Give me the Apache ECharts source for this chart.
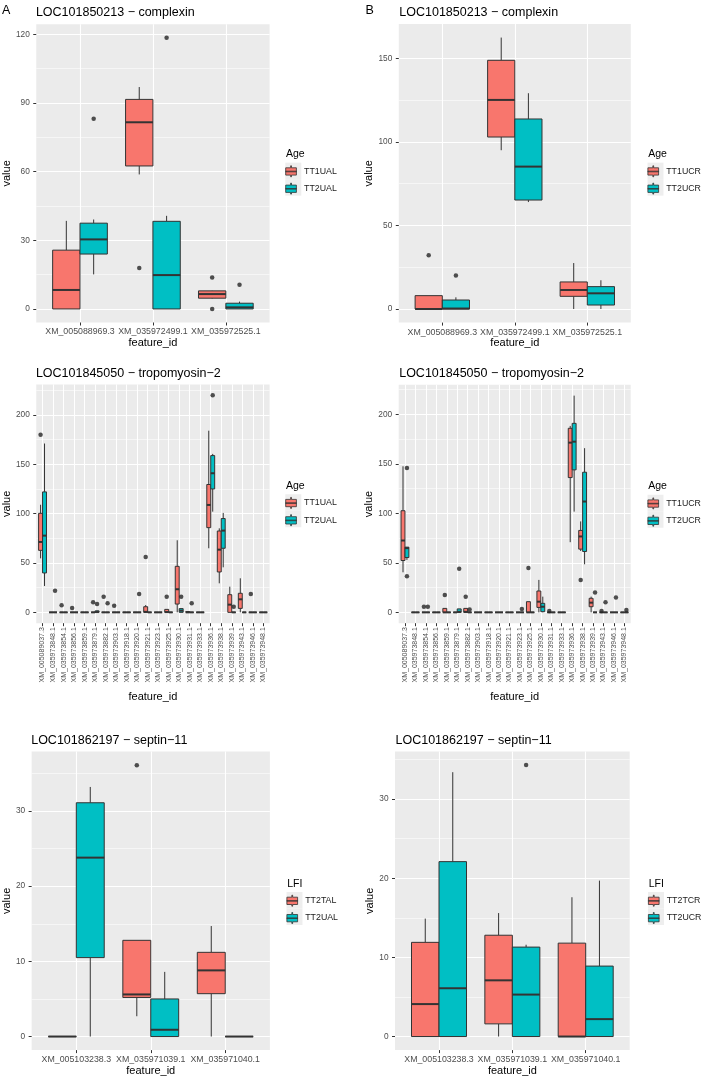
<!DOCTYPE html>
<html>
<head>
<meta charset="utf-8">
<script src="https://cdn.jsdelivr.net/npm/echarts@6/dist/echarts.min.js"></script>
<style>
  html, body { margin: 0; padding: 0; background: #fff; }
  #main { width: 709px; height: 1077px; }
</style>
</head>
<body>
<div id="main"></div>
<script>
// feature ids on the x axes
const complexinIds = ['XM_005088969.3', 'XM_035972499.1', 'XM_035972525.1'];
const tropomyosinIds = ['XM_005089037.3', 'XM_035973848.1', 'XM_035973854.1', 'XM_035973856.1',
  'XM_035973859.1', 'XM_035973879.1', 'XM_035973882.1', 'XM_035973903.1', 'XM_035973918.1',
  'XM_035973920.1', 'XM_035973921.1', 'XM_035973923.1', 'XM_035973925.1', 'XM_035973930.1',
  'XM_035973931.1', 'XM_035973933.1', 'XM_035973936.1', 'XM_035973938.1', 'XM_035973939.1',
  'XM_035973943.1', 'XM_035973946.1', 'XM_035973948.1'];
const septinIds = ['XM_005103238.3', 'XM_035971039.1', 'XM_035971040.1'];

// box stats per feature: [min, q1, median, q3, max]
// outliers: [feature index, value]
const complexinTT1UAL = [[0, 0, 8.3, 25.7, 38.5], [58.8, 62.5, 81.6, 91.6, 97.0], [4.5, 4.7, 6.5, 7.9, 8.0]];
const complexinTT1UALOut = [[1, 17.9], [2, 13.8], [2, 0]];
const complexinTT2UAL = [[15.1, 24.0, 30.4, 37.5, 39.1], [0, 0, 14.8, 38.3, 40.7], [0, 0, 0.7, 2.5, 3.2]];
const complexinTT2UALOut = [[0, 83.1], [1, 118.5], [2, 10.6]];

const complexinTT1UCR = [[0, 0, 0, 8.0, 8.0], [95.0, 102.9, 125.1, 148.8, 162.4], [0, 7.6, 11.4, 16.2, 27.5]];
const complexinTT1UCROut = [[0, 32.1]];
const complexinTT2UCR = [[0, 0, 0.3, 5.4, 7.0], [64.0, 65.2, 85.2, 113.7, 129.1], [0, 2.4, 9.4, 13.4, 17.2]];
const complexinTT2UCROut = [[0, 20.1]];

const tropomyosinTT1UAL = [
  [54.7, 62.8, 71.3, 100.3, 109], [0, 0, 0, 0, 0], [0, 0, 0, 0, 0], [0, 0, 0, 0, 0],
  [0, 0, 0, 0, 0], [0, 0, 0, 0, 0], [0, 0, 0, 0, 0], [0, 0, 0, 0, 0],
  [0, 0, 0, 0, 0], [0, 0, 0, 0, 0], [0, 0, 0.5, 5.7, 7.4], [0, 0, 0, 0, 0],
  [0, 0, 0.3, 3.0, 3.0], [0, 8.4, 23.4, 46.6, 73], [0, 0, 0, 0.8, 1.2], [0, 0, 0, 0, 0],
  [64.9, 85.8, 108.8, 129.5, 184], [29.4, 40.9, 63.5, 82.4, 85.1], [0, 0, 7.8, 17.9, 26],
  [0, 4, 13.2, 19.3, 34.5], [0, 0, 0, 0, 0], [0, 0, 0, 0, 0]];
const tropomyosinTT1UALOut = [[0, 180], [2, 7.1], [3, 4.4], [5, 10.1], [6, 15.9], [7, 6.8],
  [10, 56], [12, 15.9], [20, 18.6]];
const tropomyosinTT2UAL = [
  [26.7, 39.9, 77.7, 122, 171], [0, 0, 0, 0, 0], [0, 0, 0, 0, 0], [0, 0, 0, 0, 0],
  [0, 0, 0, 0, 0], [0, 0, 0.3, 1.5, 2], [0, 0, 0, 0, 0], [0, 0, 0, 0, 0],
  [0, 0, 0, 0, 0], [0, 0, 0, 0, 0], [0, 0, 0, 0, 0], [0, 0, 0, 0, 0],
  [0, 0, 0, 0, 0], [0, 0, 1.7, 3.8, 4], [0, 0, 0, 0, 0], [0, 0, 0, 0, 0],
  [102, 125, 140.9, 158.8, 160.5], [45.6, 64.9, 82.8, 95, 100.7], [0, 0, 0, 0, 0],
  [0, 0, 0, 0, 0], [0, 0, 0, 0, 0], [0, 0, 0, 0, 0]];
const tropomyosinTT2UALOut = [[1, 22], [5, 8.4], [6, 9.1], [9, 18.6], [13, 15.9], [14, 9.1],
  [16, 219.9], [18, 5.7]];

const tropomyosinTT1UCR = [
  [40.5, 52.4, 72.6, 102.7, 147.6], [0, 0, 0, 0, 0], [0, 0, 0, 0, 0], [0, 0, 0, 0, 0],
  [0, 0, 0, 4, 4], [0, 0, 0, 0, 0], [0, 0, 0.5, 4, 4], [0, 0, 0, 0, 0],
  [0, 0, 0, 0, 0], [0, 0, 0, 0, 0], [0, 0, 0, 0, 0], [0, 0, 0, 0, 0],
  [0, 0, 0, 10.8, 10.8], [0, 5, 10.8, 21.6, 32.8], [0, 0, 0, 0, 0], [0, 0, 0, 0, 0],
  [70.9, 136.2, 171.5, 186, 188.4], [62, 63.9, 76.7, 82.8, 91.9], [0, 5.7, 9.8, 14.2, 15.9],
  [0, 0, 0, 0, 0], [0, 0, 0, 0, 0], [0, 0, 0, 0, 0]];
const tropomyosinTT1UCROut = [[2, 5.7], [4, 17.5], [6, 15.8], [12, 44.9], [14, 1.5], [17, 32.8], [19, 1.5]];
const tropomyosinTT2UCR = [
  [53, 55.4, 64.9, 65.9, 65.9], [0, 0, 0, 0, 0], [0, 0, 0, 0, 0], [0, 0, 0, 0, 0],
  [0, 0, 0, 0, 0], [0, 0, 0.5, 3.5, 3.5], [0, 0, 0, 0, 0], [0, 0, 0, 0, 0],
  [0, 0, 0, 0, 0], [0, 0, 0, 0, 0], [0, 0, 0, 0, 0], [0, 0, 0, 0, 0],
  [0, 0, 0, 0, 0], [0, 0.7, 5.7, 9.1, 15.9], [0, 0, 0, 0, 0], [0, 0, 0, 0, 0],
  [101.8, 144, 172.5, 191, 219], [48.6, 61.5, 112, 141.6, 165.9], [0, 0, 0, 0, 0],
  [0, 0, 0, 0, 0], [0, 0, 0, 0, 0], [0, 0, 0, 0, 0]];
const tropomyosinTT2UCROut = [[0, 146], [0, 36.5], [2, 5.7], [5, 44], [6, 3], [11, 3.5],
  [18, 20], [19, 10.3], [20, 15], [21, 2.3]];

const septinTT2TAL = [[0, 0, 0, 0, 0], [2.7, 5.2, 5.6, 12.8, 12.8], [0, 5.7, 8.8, 11.2, 14.7]];
const septinTT2TALOut = [[1, 36.1]];
const septinTT2UAL = [[0, 10.5, 23.8, 31.1, 33.2], [0, 0, 0.9, 5.0, 8.6], [0, 0, 0, 0, 0]];
const septinTT2UALOut = [];

const septinTT2TCR = [[0, 0, 4.1, 11.9, 14.9], [0, 1.6, 7.1, 12.8, 15.6], [0, 0, 0, 11.8, 17.6]];
const septinTT2TCROut = [];
const septinTT2UCR = [[0, 0, 6.1, 22.1, 33.4], [0, 0, 5.3, 11.3, 11.6], [0, 0, 2.2, 8.9, 19.7]];
const septinTT2UCROut = [[1, 34.3]];

// y tick labels
const complexinTicksUAL = [0, 30, 60, 90, 120];
const complexinTicksUCR = [0, 50, 100, 150];
const tropomyosinTicks = [0, 50, 100, 150, 200];
const septinTicks = [0, 10, 20, 30];

const FILLS = ['#F8766D', '#00BFC4'];
const EDGE = '#333333';
const PANEL = '#EBEBEB';
const HALF = 0.1875;   // half of a dodged box, in feature units
const KEY_ICON = 'path://M4.95,0H5.75V2H10.7V9.3H5.75V11H4.95V9.3H0V2H4.95Z M0,5.4H10.7V6H0Z';

const panels = [
  { title: 'LOC101850213 − complexin', ids: complexinIds, ticks: complexinTicksUAL, key: 'Age',
    groups: [['TT1UAL', complexinTT1UAL, complexinTT1UALOut], ['TT2UAL', complexinTT2UAL, complexinTT2UALOut]],
    box: [35.4, 24.3, 234.2, 298.2], yGap: 20, xGap: 13, legend: [285.3, 165.4] },
  { title: 'LOC101850213 − complexin', ids: complexinIds, ticks: complexinTicksUCR, key: 'Age',
    groups: [['TT1UCR', complexinTT1UCR, complexinTT1UCROut], ['TT2UCR', complexinTT2UCR, complexinTT2UCROut]],
    box: [398.8, 24, 232, 298.6], yGap: 21, xGap: 13, legend: [647.5, 165.4] },
  { title: 'LOC101845050 − tropomyosin−2', ids: tropomyosinIds, ticks: tropomyosinTicks, key: 'Age',
    groups: [['TT1UAL', tropomyosinTT1UAL, tropomyosinTT1UALOut], ['TT2UAL', tropomyosinTT2UAL, tropomyosinTT2UALOut]],
    box: [35.4, 384.4, 234.2, 238.8], yGap: 20, xGap: 68, legend: [285.3, 497], rotate: true },
  { title: 'LOC101845050 − tropomyosin−2', ids: tropomyosinIds, ticks: tropomyosinTicks, key: 'Age',
    groups: [['TT1UCR', tropomyosinTT1UCR, tropomyosinTT1UCROut], ['TT2UCR', tropomyosinTT2UCR, tropomyosinTT2UCROut]],
    box: [398.7, 384.8, 232, 238.4], yGap: 20.5, xGap: 68, legend: [647.5, 497.5], rotate: true },
  { title: 'LOC101862197 − septin−11', ids: septinIds, ticks: septinTicks, key: 'LFI',
    groups: [['TT2TAL', septinTT2TAL, septinTT2TALOut], ['TT2UAL', septinTT2UAL, septinTT2UALOut]],
    box: [30.7, 751.6, 239.2, 298.6], yGap: 15.5, xGap: 14.5, legend: [286.5, 894.8] },
  { title: 'LOC101862197 − septin−11', ids: septinIds, ticks: septinTicks, key: 'LFI',
    groups: [['TT2TCR', septinTT2TCR, septinTT2TCROut], ['TT2UCR', septinTT2UCR, septinTT2UCROut]],
    box: [395, 751.5, 234.7, 298.7], yGap: 17, xGap: 14.5, legend: [648, 894.8] }
];

// ggplot style: data range padded by 5% on each side
function paddedRange(groups) {
  let lo = Infinity, hi = -Infinity;
  groups.forEach(([, boxes, outs]) => {
    boxes.forEach(b => { lo = Math.min(lo, b[0]); hi = Math.max(hi, b[4]); });
    outs.forEach(o => { lo = Math.min(lo, o[1]); hi = Math.max(hi, o[1]); });
  });
  const pad = (hi - lo) * 0.05;
  return [lo - pad, hi + pad];
}

function boxItem(offset) {
  return function (params, api) {
    const x = api.value(0) + offset;
    const a = api.coord([x - HALF, api.value(4)]);
    const b = api.coord([x + HALF, api.value(2)]);
    const top = api.coord([x, api.value(5)]);
    const bottom = api.coord([x, api.value(1)]);
    const med = api.coord([x, api.value(3)]);
    const thin = { stroke: EDGE, lineWidth: 1 };
    return {
      type: 'group',
      children: [
        { type: 'line', shape: { x1: top[0], y1: top[1], x2: top[0], y2: a[1] }, style: thin },
        { type: 'line', shape: { x1: bottom[0], y1: b[1], x2: bottom[0], y2: bottom[1] }, style: thin },
        { type: 'rect', shape: { x: a[0], y: a[1], width: b[0] - a[0], height: b[1] - a[1] },
          style: { fill: api.visual('color'), stroke: EDGE, lineWidth: 1 } },
        { type: 'line', shape: { x1: a[0], y1: med[1], x2: b[0], y2: med[1] },
          style: { stroke: EDGE, lineWidth: 2 } }
      ]
    };
  };
}

const chart = echarts.init(document.getElementById('main'), null, { renderer: 'canvas' });
const axisName = { fontSize: 11, color: '#000' };
const option = {
  animation: false,
  textStyle: { fontFamily: 'Liberation Sans, Arial, sans-serif' },
  title: [
    { text: 'A', left: 2, top: 4.5, padding: 0, textStyle: { fontSize: 12.5, fontWeight: 'normal', color: '#000' } },
    { text: 'B', left: 365.5, top: 4.5, padding: 0, textStyle: { fontSize: 12.5, fontWeight: 'normal', color: '#000' } }
  ],
  grid: [], xAxis: [], yAxis: [], legend: [], series: [], graphic: []
};

panels.forEach((p, i) => {
  const [left, top, width, height] = p.box;
  const [ymin, ymax] = paddedRange(p.groups);
  const step = p.ticks[1] - p.ticks[0];
  const idx = p.ids.map((_, k) => k);

  option.grid.push({ left, top, width, height, show: true, backgroundColor: PANEL, borderWidth: 0 });
  option.title.push({ text: p.title, left: left + 0.5, top: top - 17.8, padding: 0,
    textStyle: { fontSize: 12.5, fontWeight: 'normal', color: '#000' } });
  option.title.push({ text: p.key, left: p.legend[0] + 0.7, top: p.legend[1] - 16.5, padding: 0,
    textStyle: { fontSize: 10.5, fontWeight: 'normal', color: '#000' } });

  option.xAxis.push({
    type: 'value', gridIndex: i, min: -0.6, max: p.ids.length - 0.4, minInterval: 1, maxInterval: 1,
    axisLine: { show: false, onZero: false },
    axisTick: { show: true, length: 3, lineStyle: { color: EDGE }, customValues: idx },
    axisLabel: {
      customValues: idx, color: '#4D4D4D', fontSize: p.rotate ? 7 : 8.8, margin: p.rotate ? 4 : 5,
      rotate: p.rotate ? 90 : 0,
      formatter: v => (Math.abs(v - Math.round(v)) < 1e-6 ? (p.ids[Math.round(v)] || '') : '')
    },
    splitLine: { show: true, lineStyle: { color: '#fff', width: 1.1 } },
    name: 'feature_id', nameLocation: 'middle', nameGap: p.xGap, nameTextStyle: axisName
  });
  option.yAxis.push({
    type: 'value', gridIndex: i, min: ymin, max: ymax, minInterval: step, maxInterval: step,
    axisLine: { show: false, onZero: false },
    axisTick: { show: true, length: 3, lineStyle: { color: EDGE }, customValues: p.ticks },
    axisLabel: { customValues: p.ticks, color: '#4D4D4D', fontSize: 8.3, margin: 6.5 },
    splitLine: { show: true, lineStyle: { color: '#fff', width: 1.1 } },
    minorTick: { show: false, splitNumber: 2 },
    minorSplitLine: { show: true, lineStyle: { color: '#fff', width: 0.55 } },
    name: 'value', nameLocation: 'middle', nameGap: p.yGap, nameRotate: 90, nameTextStyle: axisName
  });

  option.legend.push({
    data: p.groups.map(g => g[0]), orient: 'vertical', left: p.legend[0], top: p.legend[1], padding: 0,
    itemWidth: 16, itemHeight: 11, itemGap: 5.5, icon: KEY_ICON, symbolKeepAspect: true,
    selectedMode: false, itemStyle: { borderColor: EDGE, borderWidth: 0.8 },
    textStyle: { fontSize: 8.8, color: '#1a1a1a' }
  });
  p.groups.forEach((g, k) => {
    option.graphic.push({ type: 'rect', z: 1, silent: true,
      shape: { x: p.legend[0], y: p.legend[1] + 5.5 + k * 16.5 - 8.25, width: 16, height: 16.5 },
      style: { fill: '#EEEEEE' } });
  });

  p.groups.forEach(([name, boxes, outs], g) => {
    const offset = g === 0 ? -HALF : HALF;
    option.series.push({
      type: 'custom', name, xAxisIndex: i, yAxisIndex: i, z: 2,
      renderItem: boxItem(offset), itemStyle: { color: FILLS[g] },
      encode: { x: 0, y: [1, 2, 3, 4, 5] },
      data: boxes.map((b, k) => [k].concat(b))
    });
    option.series.push({
      type: 'scatter', name: name + ' outliers', xAxisIndex: i, yAxisIndex: i, z: 3, silent: true,
      symbol: 'circle', symbolSize: 4.5, itemStyle: { color: '#262626' },
      data: outs.map(([k, v]) => [k + offset, v])
    });
  });
});

chart.setOption(option);
</script>
</body>
</html>
